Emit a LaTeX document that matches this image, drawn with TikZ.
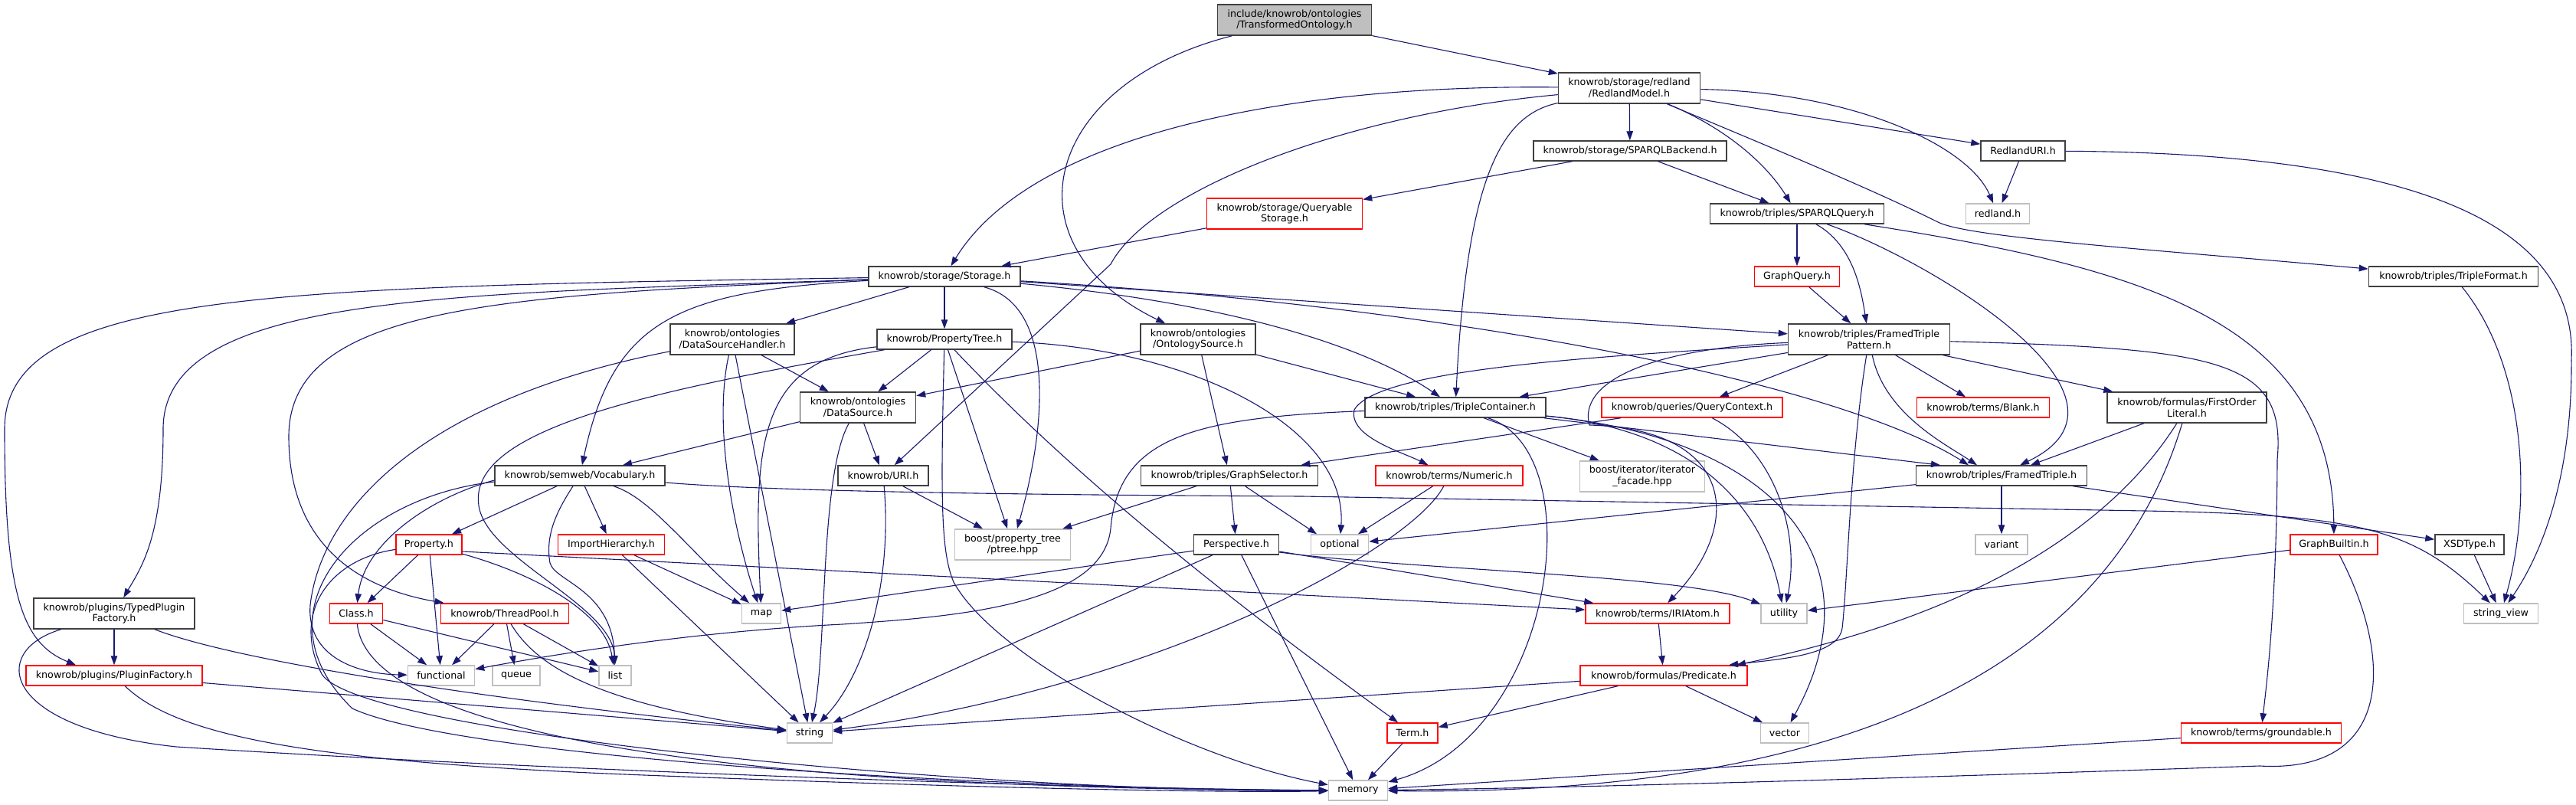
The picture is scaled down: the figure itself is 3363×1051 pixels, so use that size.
\documentclass[tikz,border=0pt]{standalone}
\usepackage{fontspec}
\setmainfont{DejaVu Sans}
\usepackage{tikz}
\usetikzlibrary{arrows.meta}
\definecolor{edgeblue}{HTML}{191970}
\definecolor{rootgray}{HTML}{BFBFBF}
\definecolor{boxline}{HTML}{404040}
\definecolor{sysgray}{HTML}{BFBFBF}
\definecolor{cutred}{HTML}{FF0000}

\begin{document}
\begin{tikzpicture}[x=1pt, y=-1pt, >={Triangle[length=12pt, width=8.5pt]},
  font=\fontsize{12.7}{14.8}\selectfont,
  inc/.style={draw=boxline, line width=1.5pt, fill=white, align=center, inner sep=1pt, minimum height=26},
  incroot/.style={inc, fill=rootgray},
  inccut/.style={inc, draw=cutred},
  incsys/.style={inc, draw=sysgray},
  dep/.style={->, color=edgeblue, line width=1.1pt}]
  \useasboundingbox (0,0) rectangle (3363,1051);

  % header under test
  \node[incroot, minimum width=201, minimum height=40] (top) at (1690,26) {include/knowrob/ontologies\\/TransformedOntology.h};

  % redland backend
  \node[inc, minimum width=185, minimum height=40] (rm) at (2127,115) {knowrob/storage/redland\\/RedlandModel.h};
  \node[inc, minimum width=252] (sb) at (2128,197) {knowrob/storage/SPARQLBackend.h};
  \node[inc, minimum width=110] (ru) at (2641,197) {RedlandURI.h};
  \node[inccut, minimum width=203, minimum height=40] (qs) at (1677,279) {knowrob/storage/Queryable\\Storage.h};
  \node[inc, minimum width=227] (sq) at (2346,279) {knowrob/triples/SPARQLQuery.h};
  \node[incsys, minimum width=83] (rh) at (2608,279) {redland.h};
  \node[inc, minimum width=198] (st) at (1233,361) {knowrob/storage/Storage.h};
  \node[inccut, minimum width=111] (gq) at (2346,361) {GraphQuery.h};
  \node[inc, minimum width=221] (tf) at (3203,361) {knowrob/triples/TripleFormat.h};

  % storage, ontologies, triples
  \node[inc, minimum width=162, minimum height=40] (dsh) at (956,443) {knowrob/ontologies\\/DataSourceHandler.h};
  \node[inc, minimum width=176] (pt) at (1233,443) {knowrob/PropertyTree.h};
  \node[inc, minimum width=150, minimum height=40] (os) at (1564,443) {knowrob/ontologies\\/OntologySource.h};
  \node[inc, minimum width=211, minimum height=40] (ftp) at (2440,443) {knowrob/triples/FramedTriple\\Pattern.h};
  \node[inc, minimum width=151, minimum height=40] (ds) at (1120,532) {knowrob/ontologies\\/DataSource.h};
  \node[inc, minimum width=236] (tc) at (1900,532) {knowrob/triples/TripleContainer.h};
  \node[inccut, minimum width=236] (qc) at (2209,532) {knowrob/queries/QueryContext.h};
  \node[inccut, minimum width=173] (bl) at (2589,532) {knowrob/terms/Blank.h};
  \node[inc, minimum width=208, minimum height=40] (fol) at (2855,532) {knowrob/formulas/FirstOrder\\Literal.h};

  \node[inc, minimum width=222] (voc) at (757,621) {knowrob/semweb/Vocabulary.h};
  \node[inc, minimum width=118] (uri) at (1153,621) {knowrob/URI.h};
  \node[inc, minimum width=231] (gs) at (1605,621) {knowrob/triples/GraphSelector.h};
  \node[inccut, minimum width=192] (num) at (1892,621) {knowrob/terms/Numeric.h};
  \node[incsys, minimum width=163, minimum height=40] (itf) at (2144,622) {boost/iterator/iterator\\\_facade.hpp};
  \node[inc, minimum width=223] (ft) at (2613,621) {knowrob/triples/FramedTriple.h};

  \node[inccut, minimum width=86] (prop) at (560,711) {Property.h};
  \node[inccut, minimum width=139] (ih) at (798,711) {ImportHierarchy.h};
  \node[incsys, minimum width=151, minimum height=40] (ptr) at (1322,711) {boost/property\_tree\\/ptree.hpp};
  \node[inc, minimum width=111] (per) at (1614,711) {Perspective.h};
  \node[incsys, minimum width=75] (opt) at (1749,711) {optional};
  \node[incsys, minimum width=68] (var) at (2613,711) {variant};
  \node[inccut, minimum width=114] (gb) at (3047,711) {GraphBuiltin.h};
  \node[inc, minimum width=90] (xsd) at (3224,711) {XSDType.h};

  % lower rows
  \node[inc, minimum width=210, minimum height=40] (tpf) at (149,801) {knowrob/plugins/TypedPlugin\\Factory.h};
  \node[inccut, minimum width=69] (cls) at (465,801) {Class.h};
  \node[inccut, minimum width=167] (tp) at (659,801) {knowrob/ThreadPool.h};
  \node[incsys, minimum width=51] (map) at (994,801) {map};
  \node[inccut, minimum width=188] (iri) at (2164,801) {knowrob/terms/IRIAtom.h};
  \node[incsys, minimum width=60] (util) at (2329,801) {utility};
  \node[incsys, minimum width=97] (sv) at (3265,801) {string\_view};

  \node[inccut, minimum width=230] (pf) at (149,882) {knowrob/plugins/PluginFactory.h};
  \node[incsys, minimum width=87] (fun) at (576,882) {functional};
  \node[incsys, minimum width=62] (que) at (674,882) {queue};
  \node[incsys, minimum width=42] (lst) at (803,882) {list};
  \node[inccut, minimum width=218] (pred) at (2172,882) {knowrob/formulas/Predicate.h};

  \node[incsys, minimum width=59] (str) at (1057,957) {string};
  \node[inccut, minimum width=66] (term) at (1844,957) {Term.h};
  \node[incsys, minimum width=63] (vec) at (2330,957) {vector};
  \node[inccut, minimum width=209] (grd) at (2952,957) {knowrob/terms/groundable.h};
  \node[incsys, minimum width=77] (mem) at (1773,1032) {memory};

  % straight includes
  \foreach \a/\b in {top/rm, rm/sb, rm/ru, sb/qs, sb/sq, qs/st, ru/rh, sq/gq, gq/ftp,
      st/dsh, st/pt, st/ftp, dsh/ds, dsh/str, pt/ds, pt/ptr, os/ds, os/gs, os/tc,
      ds/voc, ds/uri, uri/ptr, voc/prop, voc/ih, prop/cls, prop/fun, cls/fun, cls/lst,
      tp/fun, tp/que, tp/lst, tpf/pf, pf/str, ih/map, ih/str, per/map, per/str, per/mem,
      gs/ptr, gs/per, qc/gs, ftp/tc, ftp/qc, ftp/bl, ftp/fol, tc/itf, ft/var, ft/opt,
      ft/xsd, xsd/sv, gb/util, iri/pred, pred/term, pred/vec, pred/str, term/mem, grd/mem}
    \draw[dep] (\a) -- (\b);

  % top part
  \draw[dep] (top) .. controls (1360,110) and (1310,320) .. (os);
  \draw[dep] (rm) .. controls (1700,110) and (1350,170) .. (st);
  \draw[dep] (rm) .. controls (2260,170) and (2310,220) .. (sq);
  \draw[dep] (rm) .. controls (1960,150) and (1915,230) .. (tc);
  \draw[dep] (rm) .. controls (1750,150) and (1500,250) .. (1450,345) -- (uri);
  \draw[dep] (rm) .. controls (2420,120) and (2570,190) .. (rh);
  \draw[dep] (rm) .. controls (2330,200) and (2450,250) .. (2530,290) .. controls (2570,310) and (2800,325) .. (tf);
  \draw[dep] (sq) .. controls (2420,320) and (2430,380) .. (ftp);
  \draw[dep] (sq) .. controls (2520,340) and (2820,520) .. ([xshift=24pt]ft.north);
  \draw[dep] (sq) .. controls (2800,350) and (3045,420) .. (gb);
  \draw[dep] (ru) .. controls (3150,200) and (3365,290) .. (3357,470) .. controls (3358,620) and (3320,720) .. (sv);
  \draw[dep] (tf) .. controls (3300,480) and (3305,660) .. (sv);

  % from Storage.h
  \draw[dep] (st) .. controls (1380,400) and (1365,560) .. (ptr);
  \draw[dep] (st) .. controls (1600,395) and (1780,450) .. (tc);
  \draw[dep] (st) .. controls (1900,400) and (2400,500) .. ([xshift=-43pt]ft.north);
  \draw[dep] (st) .. controls (880,380) and (800,420) .. (voc);
  \draw[dep] (st) .. controls (600,385) and (213,380) .. (213,560) .. controls (213,700) and (185,740) .. (tpf);
  \draw[dep] (st) .. controls (350,375) and (6,380) .. (6,560) .. controls (6,780) and (30,840) .. ([xshift=-50pt]pf.north);
  \draw[dep] (st) .. controls (650,385) and (377,400) .. (377,570) .. controls (377,720) and (480,770) .. (tp);

  % ontologies and property tree
  \draw[dep] (dsh) .. controls (930,560) and (960,700) .. (map);
  \draw[dep] (dsh) .. controls (560,520) and (420,660) .. (405,790) .. controls (400,860) and (470,880) .. (fun);
  \draw[dep] (pt) .. controls (990,470) and (983,580) .. (map);
  \draw[dep] (pt) .. controls (850,510) and (610,560) .. (625,660) .. controls (635,730) and (800,790) .. (lst);
  \draw[dep] (pt) .. controls (1228,650) and (1228,720) .. (1245,760) .. controls (1300,860) and (1550,990) .. (mem);
  \draw[dep] (pt) .. controls (1560,455) and (1760,560) .. (opt);
  \draw[dep] (pt) .. controls (1400,620) and (1600,780) .. (term);
  \draw[dep] (ds) .. controls (1070,620) and (1080,850) .. (str);
  \draw[dep] (uri) .. controls (1165,760) and (1130,880) .. (str);

  % semweb
  \draw[dep] ([yshift=-6pt]voc.west) .. controls (560,650) and (475,710) .. (cls);
  \draw[dep] ([yshift=-8pt]voc.west) .. controls (460,650) and (330,800) .. (460,925) .. controls (600,990) and (1300,1030) .. (mem);
  \draw[dep] (voc) .. controls (850,650) and (900,720) .. (map);
  \draw[dep] (voc) .. controls (725,670) and (712,700) .. (718,735) .. controls (725,760) and (800,770) .. (lst);
  \draw[dep] ([yshift=-9pt]voc.east) .. controls (1000,641) and (1300,646) .. (1700,648) -- (2800,667) .. controls (3080,672) and (3150,690) .. (sv);
  \draw[dep] (prop) .. controls (700,750) and (790,800) .. (lst);
  \draw[dep] ([yshift=-9pt]prop.east) -- (iri);
  \draw[dep] (prop) .. controls (430,730) and (380,800) .. (420,880) .. controls (470,960) and (1300,1035) .. (mem);
  \draw[dep] (cls) .. controls (480,950) and (900,1030) .. (mem);
  \draw[dep] (tp) .. controls (700,870) and (780,920) .. (str);

  % plugins
  \draw[dep] (tpf) .. controls (300,860) and (600,910) .. (str);
  \draw[dep] (tpf) .. controls (-15,850) and (0,950) .. (230,975) .. controls (700,1005) and (1400,1030) .. (mem);
  \draw[dep] (pf) .. controls (230,960) and (400,995) .. (841,1012) .. controls (1300,1030) and (1600,1035) .. (mem);

  % perspective, queries, terms
  \draw[dep] ([yshift=-10pt]per.east) .. controls (1850,745) and (2200,750) .. (util);
  \draw[dep] ([yshift=-9pt]per.east) -- (iri);
  \draw[dep] (gs) -- ([xshift=-30pt]opt.north);
  \draw[dep] (num) -- ([xshift=24pt]opt.north);
  \draw[dep] (qc) .. controls (2320,590) and (2350,700) .. (util);
  \draw[dep] (num) .. controls (1840,720) and (1500,900) .. (str);

  % framed triple pattern
  \draw[dep] (ftp) .. controls (2100,465) and (1800,480) .. (1768,535) .. controls (1760,570) and (1830,590) .. (num);
  \draw[dep] (ftp) .. controls (2150,455) and (2060,500) .. (2075,555) .. controls (2260,560) and (2280,680) .. (iri);
  \draw[dep] (ftp) .. controls (2415,600) and (2412,760) .. (2405,820) .. controls (2400,855) and (2330,860) .. ([xshift=85pt]pred.north);
  \draw[dep] (ftp) .. controls (2900,455) and (2985,470) .. (2973,600) .. controls (2972,800) and (2958,900) .. (grd);
  \draw[dep] (ftp) .. controls (2460,540) and (2540,580) .. ([xshift=-32pt]ft.north);

  % triple container
  \draw[dep] (tc) .. controls (1560,545) and (1460,570) .. (1450,690) .. controls (1440,790) and (1250,805) .. (1100,815) .. controls (900,825) and (720,855) .. (fun);
  \draw[dep] (tc) .. controls (2080,590) and (2030,960) .. (mem);
  \draw[dep] (tc) .. controls (2200,560) and (2300,650) .. (util);
  \draw[dep] (tc) .. controls (2300,570) and (2460,720) .. (vec);
  \draw[dep] (tc) -- ([xshift=-80pt]ft.north);

  % formulas and builtins
  \draw[dep] (fol) -- ([xshift=38pt]ft.north);
  \draw[dep] (fol) .. controls (2780,650) and (2640,790) .. ([xshift=95pt]pred.north);
  \draw[dep] (fol) .. controls (2760,850) and (2450,1040) .. (mem);
  \draw[dep] (gb) .. controls (3125,860) and (3125,1010) .. (2950,1000) .. controls (2600,1012) and (2100,1028) .. (mem);
\end{tikzpicture}
\end{document}
